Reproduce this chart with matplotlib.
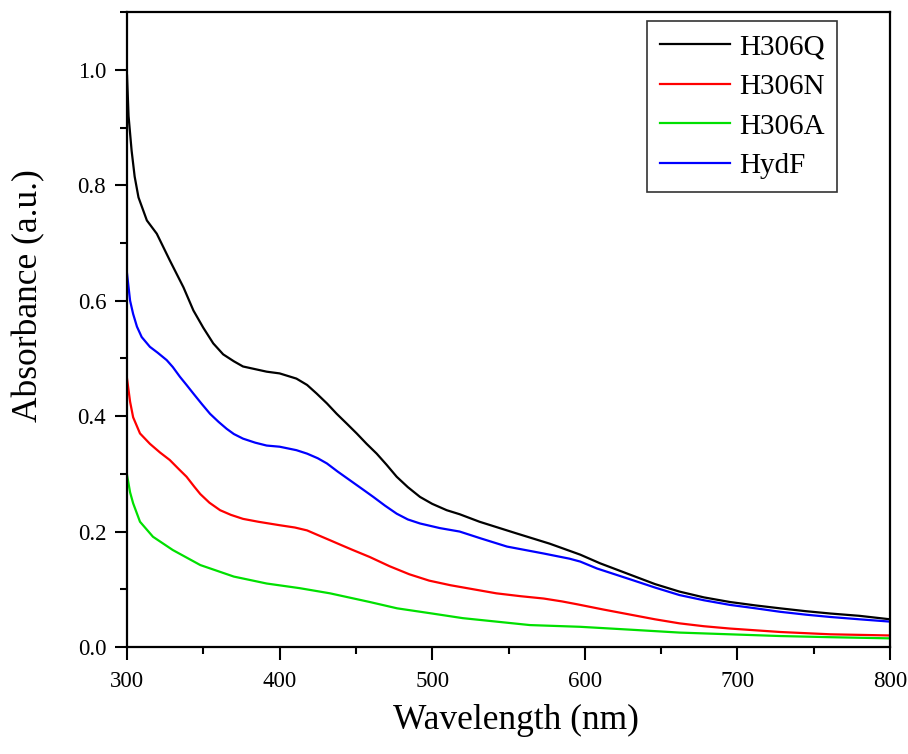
import matplotlib
matplotlib.use("Agg")
import matplotlib.pyplot as plt
from matplotlib.ticker import MultipleLocator, FormatStrFormatter

# -----------------------------
# Data
# -----------------------------
wl_h306q = [300, 301, 303, 305, 307.5, 313, 319.5, 328, 337, 343.5, 350, 356.5,
            363, 370, 376, 391.5, 400, 411, 418, 424.3, 431, 437.4, 444, 450.5,
            457, 463.6, 470, 476.7, 484, 492, 500, 509.5, 518, 531, 555, 577,
            597, 610, 630, 646, 662, 678, 695, 712, 728, 745, 761, 780, 800]
abs_h306q = [0.99, 0.92, 0.86, 0.815, 0.779, 0.739, 0.716, 0.670, 0.623, 0.583,
             0.553, 0.526, 0.507, 0.495, 0.486, 0.477, 0.474, 0.465, 0.454,
             0.439, 0.422, 0.404, 0.387, 0.370, 0.352, 0.335, 0.316, 0.295,
             0.277, 0.260, 0.248, 0.237, 0.230, 0.217, 0.197, 0.179, 0.160,
             0.145, 0.125, 0.109, 0.096, 0.086, 0.078, 0.072, 0.067, 0.062,
             0.058, 0.054, 0.048]

wl_h306n = [300, 302, 304, 308.5, 315, 321.6, 328, 334, 339, 344, 348, 354, 361,
            368, 376, 386, 400, 410, 418, 425, 433, 440, 448, 459, 472, 485,
            498, 512, 527, 542, 558, 573, 585, 595, 612, 630, 646, 662, 678,
            695, 728, 761, 800]
abs_h306n = [0.465, 0.425, 0.398, 0.370, 0.352, 0.337, 0.324, 0.308, 0.295,
             0.278, 0.265, 0.250, 0.237, 0.229, 0.222, 0.217, 0.211, 0.207,
             0.202, 0.194, 0.185, 0.177, 0.168, 0.156, 0.140, 0.126, 0.115,
             0.107, 0.100, 0.093, 0.088, 0.084, 0.079, 0.074, 0.065, 0.056,
             0.048, 0.041, 0.036, 0.032, 0.026, 0.022, 0.020]

wl_h306a = [300, 302, 304, 308.5, 317, 330, 348, 370, 391.5, 413, 433, 459, 477,
            500, 520, 542, 564, 597, 630, 662, 695, 728, 761, 800]
abs_h306a = [0.298, 0.268, 0.249, 0.217, 0.191, 0.168, 0.142, 0.122, 0.110,
             0.102, 0.093, 0.078, 0.067, 0.058, 0.050, 0.044, 0.038, 0.035,
             0.030, 0.025, 0.022, 0.019, 0.017, 0.015]

wl_hydf = [300, 302, 304, 306.5, 309.6, 315, 320, 326, 330, 334.7, 339, 343.5,
           349, 354.4, 360, 365.3, 370, 376, 384, 391.5, 400, 411, 418, 425,
           431, 438, 446, 454, 461.4, 469, 476.7, 484, 492, 505, 518, 532, 549,
           573, 590, 597, 608, 630, 646, 662, 678, 695, 712, 728, 745, 761,
           780, 800]
abs_hydf = [0.647, 0.60, 0.577, 0.555, 0.537, 0.520, 0.510, 0.497, 0.485,
            0.468, 0.454, 0.439, 0.421, 0.404, 0.390, 0.378, 0.369, 0.361,
            0.354, 0.349, 0.347, 0.341, 0.335, 0.327, 0.318, 0.304, 0.289,
            0.274, 0.260, 0.245, 0.231, 0.221, 0.214, 0.206, 0.200, 0.188,
            0.174, 0.162, 0.153, 0.148, 0.136, 0.117, 0.103, 0.090, 0.081,
            0.073, 0.067, 0.061, 0.056, 0.052, 0.048, 0.044]

series = [
    ("H306Q", wl_h306q, abs_h306q, "black"),
    ("H306N", wl_h306n, abs_h306n, "#ff0000"),
    ("H306A", wl_h306a, abs_h306a, "#00e000"),
    ("HydF", wl_hydf, abs_hydf, "#0000ff"),
]

plt.rcParams["font.family"] = ["Liberation Serif", "DejaVu Serif"]

fig = plt.figure(figsize=(9.08, 7.54), dpi=100)
ax = fig.add_axes([0.1399, 0.1419, 0.8403, 0.8421])

for name, x, y, color in series:
    ax.plot(x, y, color=color, lw=1.6, label=name)

ax.set_xlim(300, 800)
ax.set_ylim(0, 1.1)
ax.xaxis.set_major_locator(MultipleLocator(100))
ax.xaxis.set_minor_locator(MultipleLocator(50))
ax.yaxis.set_major_locator(MultipleLocator(0.2))
ax.yaxis.set_minor_locator(MultipleLocator(0.1))
ax.yaxis.set_major_formatter(FormatStrFormatter("%.1f"))

ax.tick_params(which="major", direction="out", length=9, width=1.5,
               labelsize=16.5)
ax.tick_params(axis="x", which="major", pad=8)
ax.tick_params(axis="y", which="major", pad=6)
ax.tick_params(which="minor", direction="out", length=5, width=1.5)
for sp in ax.spines.values():
    sp.set_linewidth(1.6)

ax.set_xlabel("Wavelength (nm)", fontsize=25.5)
ax.set_ylabel("Absorbance (a.u.)", fontsize=25.5)
ax.xaxis.set_label_coords(0.51, -0.09)
ax.yaxis.set_label_coords(-0.107, 0.553)

leg = ax.legend(loc="upper right", bbox_to_anchor=(0.931, 0.986), fontsize=21,
                frameon=True, fancybox=False, handlelength=2.4,
                borderpad=0.45, labelspacing=0.45, handletextpad=0.3,
                borderaxespad=0)
leg.get_frame().set_edgecolor("black")
leg.get_frame().set_linewidth(1.2)

fig.savefig("out.png", dpi=100)
